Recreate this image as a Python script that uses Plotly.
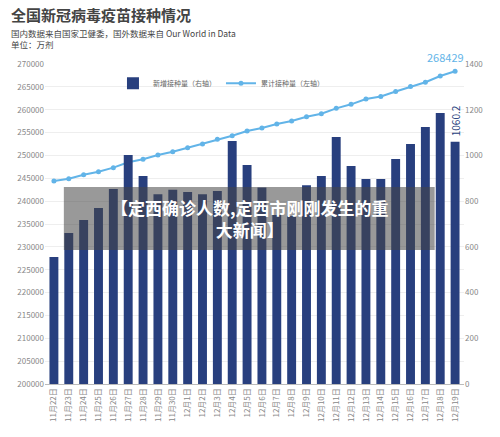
import plotly.graph_objects as go

dates = ["11月22日","11月23日","11月24日","11月25日","11月26日","11月27日","11月28日","11月29日","11月30日",
         "12月1日","12月2日","12月3日","12月4日","12月5日","12月6日","12月7日","12月8日","12月9日","12月10日",
         "12月11日","12月12日","12月13日","12月14日","12月15日","12月16日","12月17日","12月18日","12月19日"]
daily = [556,661,717,770,853,1002,910,830,850,840,830,844,1063,958,860,739,735,870,910,
         1081,954,897,897,984,1050,1124,1186,1060.2]
cumulative = [244406,244917,245792,246448,247323,248490,249146,250094,250823,251698,252500,253521,254323,
              255344,256000,256875,257531,258479,259135,260302,261177,262344,262875,263969,265063,266000,
              267375,268429]
left_ticks = list(range(200000, 270001, 5000))
right_ticks = list(range(0, 1401, 200))

font = "Noto Sans CJK SC"
fig = go.Figure()
fig.add_trace(go.Bar(x=dates, y=daily, yaxis="y2", name="新增接种量（右轴）",
                     marker=dict(color="#283f7e", line=dict(width=0)), width=0.6))
fig.add_trace(go.Scatter(x=dates, y=cumulative, mode="lines+markers", name="累计接种量（左轴）",
                         line=dict(color="#62b4e8", width=2), marker=dict(size=5, color="#62b4e8")))
fig.add_annotation(x=dates[-1], y=cumulative[-1], text=str(cumulative[-1]), showarrow=False,
                   yshift=14, xshift=-10, font=dict(color="#62b4e8", size=11, family=font))
fig.add_annotation(x=dates[-1], y=daily[-1], yref="y2", text=str(daily[-1]), showarrow=False,
                   textangle=-90, yanchor="bottom", yshift=3, font=dict(color="#283f7e", size=10, family=font))
fig.update_layout(
    width=492, height=429, paper_bgcolor="white", plot_bgcolor="white",
    margin=dict(l=37, r=36, t=56, b=53),
    font=dict(family=font, color="#888"),
    showlegend=True, bargap=0.4,
    legend=dict(orientation="h", x=0.42, y=0.94, xanchor="center", yanchor="middle",
                font=dict(size=7, color="#666"), bgcolor="rgba(0,0,0,0)"),
    xaxis=dict(tickangle=-90, tickfont=dict(size=8, color="#888"), showgrid=False, automargin=False,
               range=[-0.6, len(dates) - 0.4],
               showline=True, linecolor="#bbb", ticks=""),
    yaxis=dict(range=[200000, 270000], tickvals=left_ticks, tickfont=dict(size=8, color="#888"),
               gridcolor="#eee", zeroline=False, tickformat="d", automargin=False),
    yaxis2=dict(range=[0, 1400], tickvals=right_ticks, overlaying="y", side="right", automargin=False,
                tickfont=dict(size=8, color="#888"), showgrid=False, zeroline=False),
    shapes=[dict(type="rect", xref="paper", yref="paper", x0=0.045, x1=0.93, y0=0.419, y1=0.616,
                 fillcolor="rgba(70,70,70,0.55)", line=dict(width=0), layer="above")],
)
fig.add_annotation(xref="paper", yref="paper", x=0.49, y=0.517, showarrow=False,
                   text="<b>【定西确诊人数,定西市刚刚发生的重<br>大新闻】</b>",
                   font=dict(size=17, color="white", family=font), align="center")
fig.add_annotation(xref="paper", yref="paper", x=-0.085, y=1.115, xanchor="left", yanchor="bottom", showarrow=False,
                   text="<b>全国新冠病毒疫苗接种情况</b>", font=dict(size=15, color="#444", family=font))
fig.add_annotation(xref="paper", yref="paper", x=-0.085, y=1.037, xanchor="left", yanchor="bottom", showarrow=False,
                   align="left", text="国内数据来自国家卫健委，国外数据来自 Our World in Data<br>单位：万剂",
                   font=dict(size=8.5, color="#444", family=font))
fig.write_html("out.html")
